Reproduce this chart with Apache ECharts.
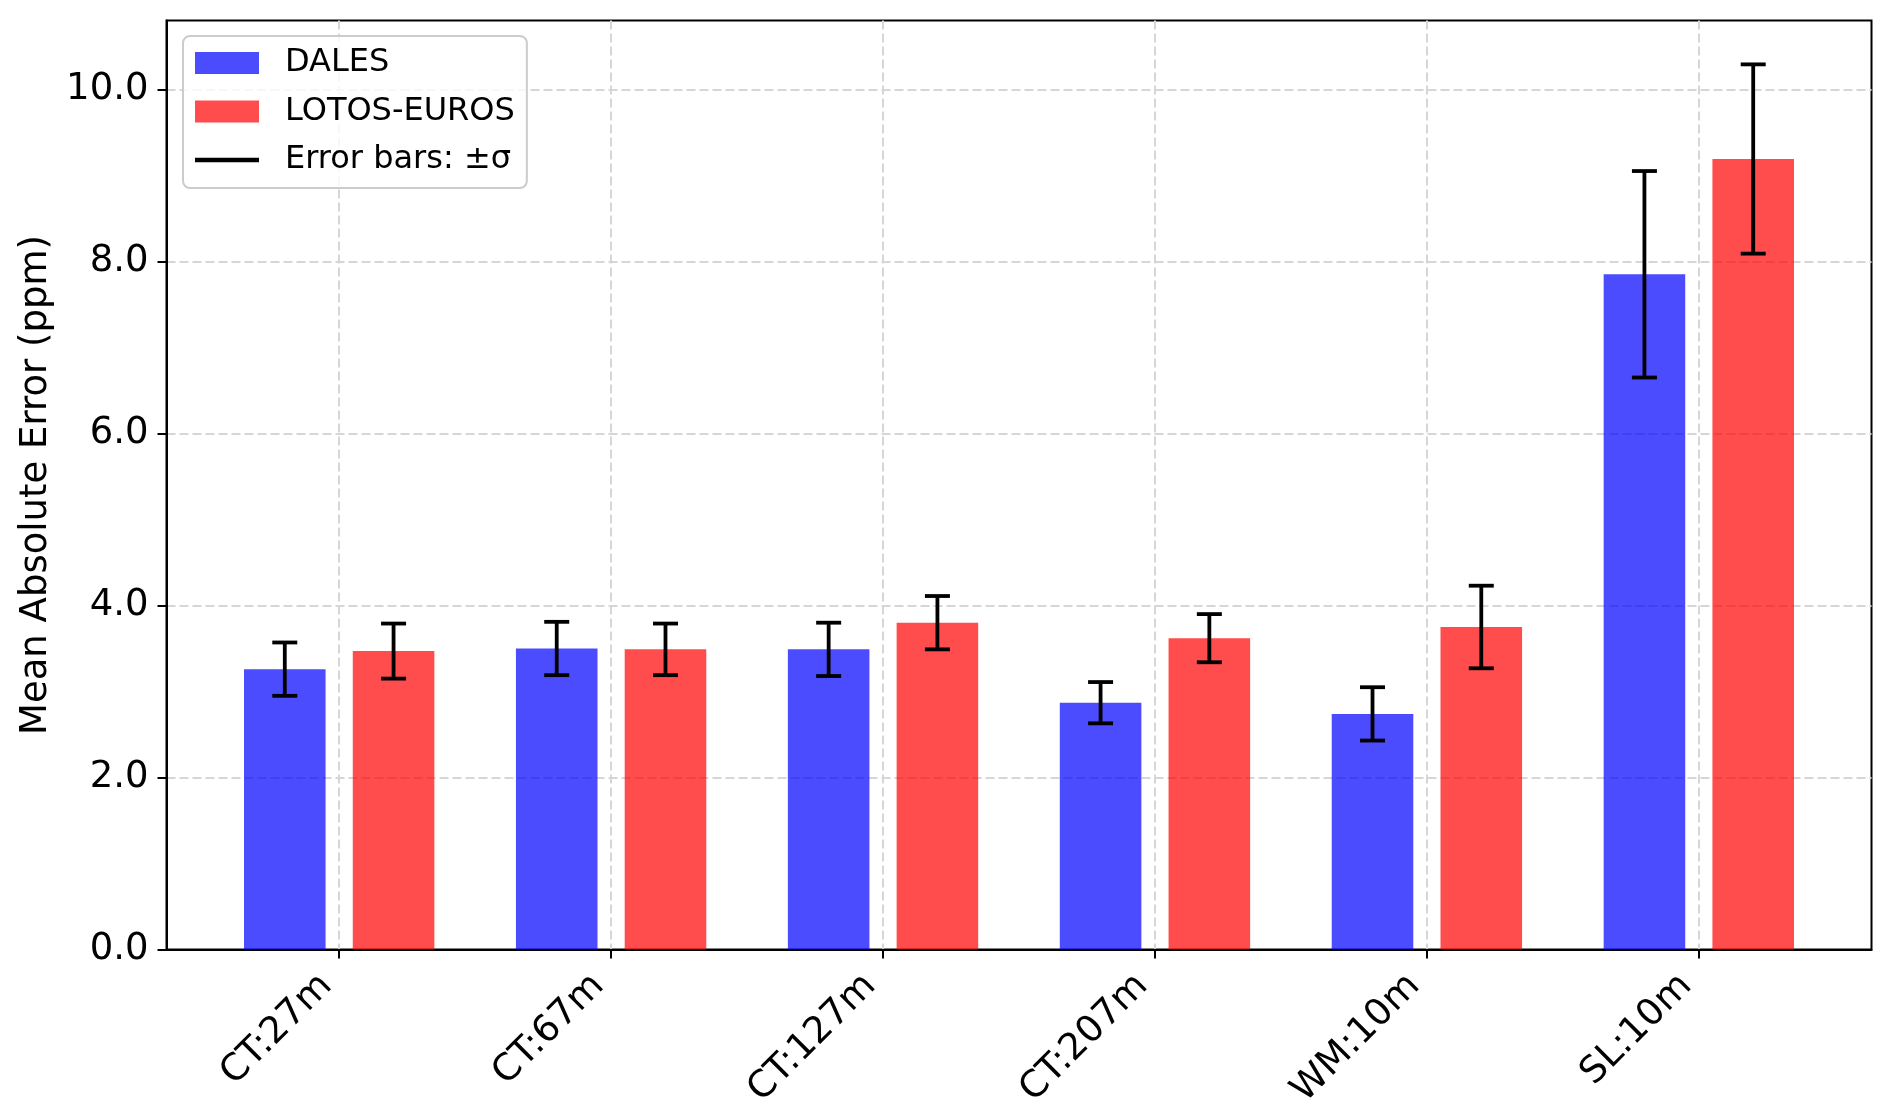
<!DOCTYPE html>
<html>
<head>
<meta charset="utf-8">
<script src="https://cdn.jsdelivr.net/npm/echarts@6/dist/echarts.min.js"></script>
<style>
html,body{margin:0;padding:0;background:#fff;}
#chart{width:1892px;height:1118px;}
</style>
</head>
<body>
<div id="chart"></div>
<script>
const categories = ['CT:27m', 'CT:67m', 'CT:127m', 'CT:207m', 'WM:10m', 'SL:10m'];
const dalesMAE = [3.26, 3.50, 3.49, 2.87, 2.74, 7.85];
const dalesStd = [0.31, 0.31, 0.31, 0.24, 0.31, 1.20];
const lotosMAE = [3.47, 3.49, 3.80, 3.62, 3.75, 9.19];
const lotosStd = [0.32, 0.30, 0.31, 0.28, 0.48, 1.10];
const yTicks = [0, 2, 4, 6, 8, 10];

const FONT = 'DejaVu Sans';
const BAR_W = 0.3;
const OFFSET = 0.2;
const BLUE = 'rgba(0,0,255,0.7)';
const RED = 'rgba(255,0,0,0.7)';

function barRender(offset, color) {
  return function (params, api) {
    const x = api.value(0) + offset;
    const y = api.value(1);
    const p0 = api.coord([x - BAR_W / 2, y]);
    const p1 = api.coord([x + BAR_W / 2, 0]);
    return {
      type: 'rect',
      shape: { x: p0[0], y: p0[1], width: p1[0] - p0[0], height: p1[1] - p0[1] },
      style: { fill: color }
    };
  };
}

const errData = [];
categories.forEach((c, i) => {
  errData.push([i, -OFFSET, dalesMAE[i], dalesStd[i]]);
  errData.push([i, OFFSET, lotosMAE[i], lotosStd[i]]);
});

const chart = echarts.init(document.getElementById('chart'));
chart.setOption({
  animation: false,
  backgroundColor: '#ffffff',
  grid: {
    left: 166.5, top: 20.5, right: 20.5, bottom: 168.4,
    containLabel: false, outerBoundsMode: 'none',
    show: true, borderColor: '#000', borderWidth: 2, backgroundColor: 'transparent'
  },
  legend: {
    orient: 'vertical',
    left: 183, top: 36,
    padding: [11, 12, 12, 12],
    itemWidth: 64, itemHeight: 22, itemGap: 16.5,
    backgroundColor: 'rgba(255,255,255,0.8)',
    borderColor: '#cccccc', borderWidth: 2, borderRadius: 7,
    selectedMode: false,
    textStyle: { fontFamily: FONT, fontSize: 32, color: '#000', lineHeight: 32, padding: [0, 0, 0, 21] },
    data: [
      { name: 'DALES', icon: 'rect' },
      { name: 'LOTOS-EUROS', icon: 'rect' },
      { name: 'Error bars: ±σ', icon: 'path://M0,0 L64,0 L64,4.5 L0,4.5 Z' }
    ]
  },
  xAxis: {
    type: 'value',
    min: -0.635, max: 5.635,
    axisLine: { show: true, onZero: false, lineStyle: { color: '#000', width: 2 } },
    axisTick: { show: true, customValues: [0, 1, 2, 3, 4, 5], length: 9, lineStyle: { color: '#000', width: 2 } },
    axisLabel: {
      customValues: [0, 1, 2, 3, 4, 5],
      formatter: v => categories[Math.round(v)],
      rotate: 45, margin: 18,
      fontFamily: FONT, fontSize: 37, color: '#000',
      padding: [0, 18, 0, 0]
    },
    splitLine: { show: true, lineStyle: { color: '#d6d6d6', width: 2, type: [9, 4] } }
  },
  yAxis: {
    type: 'value',
    min: 0, max: 10.8,
    name: 'Mean Absolute Error (ppm)',
    nameLocation: 'middle', nameGap: 112, nameRotate: 90,
    nameTextStyle: { fontFamily: FONT, fontSize: 37, color: '#000' },
    axisLine: { show: true, onZero: false, lineStyle: { color: '#000', width: 2 } },
    axisTick: { show: true, customValues: yTicks, length: 9, lineStyle: { color: '#000', width: 2 } },
    axisLabel: {
      customValues: yTicks,
      formatter: v => v.toFixed(1),
      margin: 18,
      fontFamily: FONT, fontSize: 37, color: '#000'
    },
    splitLine: { show: true, lineStyle: { color: '#d6d6d6', width: 2, type: [9, 4] } }
  },
  series: [
    {
      type: 'custom', name: 'DALES',
      itemStyle: { color: BLUE },
      data: dalesMAE.map((v, i) => [i, v]),
      encode: { x: 0, y: 1 },
      renderItem: barRender(-OFFSET, BLUE),
      z: 2
    },
    {
      type: 'custom', name: 'LOTOS-EUROS',
      itemStyle: { color: RED },
      data: lotosMAE.map((v, i) => [i, v]),
      encode: { x: 0, y: 1 },
      renderItem: barRender(OFFSET, RED),
      z: 2
    },
    {
      type: 'custom', name: 'Error bars: ±σ',
      itemStyle: { color: '#000' },
      data: errData,
      encode: { x: 0, y: 2 },
      renderItem: function (params, api) {
        const x = api.value(0) + api.value(1);
        const m = api.value(2), s = api.value(3);
        const top = api.coord([x, m + s]);
        const bot = api.coord([x, m - s]);
        const cap = 12.5;
        const st = { stroke: '#000', lineWidth: 3.8 };
        return {
          type: 'group',
          children: [
            { type: 'line', shape: { x1: top[0], y1: top[1], x2: bot[0], y2: bot[1] }, style: st },
            { type: 'line', shape: { x1: top[0] - cap, y1: top[1], x2: top[0] + cap, y2: top[1] }, style: st },
            { type: 'line', shape: { x1: bot[0] - cap, y1: bot[1], x2: bot[0] + cap, y2: bot[1] }, style: st }
          ]
        };
      },
      z: 3
    }
  ]
});
</script>
</body>
</html>
